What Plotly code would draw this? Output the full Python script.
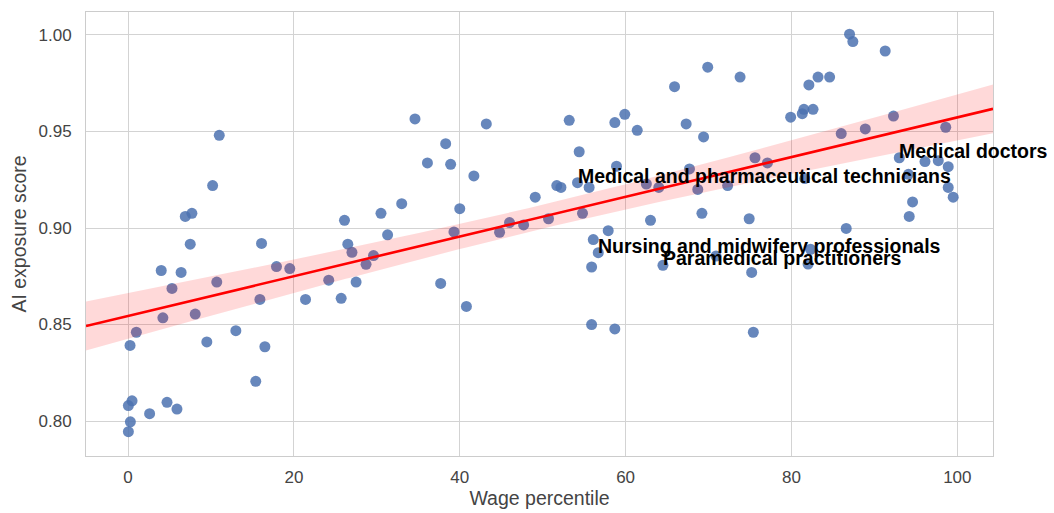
import numpy as np
import plotly.graph_objects as go

wage_percentile = [
    0.04, 0.28, 0.04, 0.48, 0.24, 1.0, 2.6, 4.0, 4.2, 4.7, 5.3, 5.9, 6.4, 6.9, 7.7, 7.5,
    8.1, 9.5, 10.2, 10.7, 11.0, 13.0, 15.4, 16.1, 15.9, 16.5, 17.9, 19.5, 21.4, 24.2,
    25.7, 26.1, 26.5, 27.0, 27.5, 28.7, 29.6, 30.5, 31.3, 33.0, 34.6, 36.1, 37.7, 38.3,
    38.9, 39.3, 40.0, 40.8, 41.7, 43.2, 44.8, 46.0, 47.7, 49.1, 50.7, 51.7, 52.2, 53.2,
    54.2, 54.4, 54.8, 55.6, 55.9, 55.9, 56.1, 56.7, 57.9, 58.7, 58.7, 58.9, 59.9, 61.4,
    62.5, 63.0, 64.0, 64.5, 65.9, 67.3, 67.7, 68.7, 69.2, 69.4, 69.9, 70.9, 72.3, 73.8,
    74.9, 75.2, 75.4, 75.6, 77.1, 79.9, 81.3, 81.5, 81.6, 82.0, 82.1, 82.3, 82.6, 83.2,
    84.6, 86.0, 86.6, 87.0, 87.4, 88.9, 91.3, 92.3, 93.0, 94.1, 94.2, 94.6, 96.1, 97.7,
    98.6, 98.9, 98.9, 99.5,
]
ai_exposure = [
    0.7945, 0.7996, 0.808, 0.8105, 0.8392, 0.846, 0.8038, 0.878, 0.8535, 0.8097, 0.8687,
    0.8062, 0.877, 0.906, 0.9076, 0.8916, 0.8554, 0.841, 0.922, 0.872, 0.948, 0.8468,
    0.8206, 0.892, 0.863, 0.8385, 0.880, 0.879, 0.863, 0.873, 0.8636, 0.904, 0.8916,
    0.8874, 0.872, 0.8812, 0.8857, 0.9076, 0.8965, 0.9126, 0.9565, 0.9337, 0.8713,
    0.9437, 0.933, 0.898, 0.910, 0.8594, 0.927, 0.9539, 0.8978, 0.9028, 0.9016, 0.916,
    0.9048, 0.922, 0.921, 0.9558, 0.9235, 0.9395, 0.9076, 0.921, 0.8798, 0.850, 0.894,
    0.8872, 0.8986, 0.9546, 0.8477, 0.932, 0.9589, 0.9506, 0.9228, 0.904, 0.921, 0.8807,
    0.9732, 0.9539, 0.9306, 0.920, 0.9076, 0.9472, 0.9833, 0.8855, 0.922, 0.9782, 0.9048,
    0.877, 0.846, 0.9364, 0.9337, 0.9574, 0.9592, 0.9615, 0.9256, 0.8813, 0.9741, 0.889,
    0.9615, 0.9782, 0.9782, 0.9489, 0.8998, 1.0004, 0.9966, 0.9513, 0.9917, 0.958,
    0.9364, 0.9278, 0.906, 0.9135, 0.9344, 0.9349, 0.9522, 0.9318, 0.921, 0.916,
]

label_names = [
    "Medical doctors",
    "Medical and pharmaceutical technicians",
    "Nursing and midwifery professionals",
    "Paramedical practitioners",
]
label_x = [93.0, 54.2, 56.7, 64.5]
label_y = [0.9364, 0.9235, 0.8872, 0.8807]

x_ticks = [0, 20, 40, 60, 80, 100]
y_ticks = [0.80, 0.85, 0.90, 0.95, 1.00]
x_range = [-5.07, 104.3]
y_range = [0.7819, 1.0119]

x = np.array(wage_percentile)
y = np.array(ai_exposure)
n = len(x)
slope, intercept = np.polyfit(x, y, 1)
grid = np.linspace(x_range[0], x_range[1], 200)
fit = intercept + slope * grid
resid = y - (intercept + slope * x)
s = np.sqrt(np.sum(resid ** 2) / (n - 2))
sxx = np.sum((x - x.mean()) ** 2)
tval = 1.98
half = tval * s * np.sqrt(1.0 / n + (grid - x.mean()) ** 2 / sxx)

FONT = "Liberation Sans, Arial"

fig = go.Figure()
fig.add_trace(go.Scatter(
    x=x, y=y, mode="markers",
    marker=dict(size=11, color="#4C72B0", opacity=0.85, line=dict(width=0)),
    showlegend=False, hoverinfo="skip",
))
fig.add_trace(go.Scatter(
    x=np.concatenate([grid, grid[::-1]]),
    y=np.concatenate([fit + half, (fit - half)[::-1]]),
    fill="toself", fillcolor="rgba(255,0,0,0.15)", line=dict(width=0),
    mode="lines", showlegend=False, hoverinfo="skip",
))
fig.add_trace(go.Scatter(
    x=grid, y=fit, mode="lines", line=dict(color="red", width=2.6),
    showlegend=False, hoverinfo="skip",
))

for name, lx, ly in zip(label_names, label_x, label_y):
    fig.add_annotation(
        x=lx, y=ly, text="<b>%s</b>" % name, showarrow=False,
        xanchor="left", yanchor="bottom", yshift=-6, xshift=-2,
        font=dict(family=FONT, size=19.5, color="black"),
    )

axis_common = dict(
    showgrid=True, gridcolor="#d3d3d3", gridwidth=1,
    showline=True, linecolor="#cccccc", linewidth=1, mirror=True,
    zeroline=False, ticks="", automargin=False,
    tickfont=dict(family=FONT, size=17, color="#444444"),
)
fig.update_xaxes(
    range=x_range, tickvals=x_ticks, ticktext=[str(v) for v in x_ticks],
    ticklabelstandoff=6,
    title=dict(text="Wage percentile", standoff=4,
               font=dict(family=FONT, size=19.5, color="#444444")),
    **axis_common,
)
fig.update_yaxes(
    range=y_range, tickvals=y_ticks, ticktext=["%.2f" % v for v in y_ticks],
    ticklabelstandoff=10,
    title=dict(text="AI exposure score", standoff=6,
               font=dict(family=FONT, size=19.5, color="#444444")),
    **axis_common,
)
fig.update_layout(
    width=1054, height=513,
    margin=dict(l=86, r=61, t=12, b=57),
    paper_bgcolor="white", plot_bgcolor="white",
)
fig.write_html("out.html")
